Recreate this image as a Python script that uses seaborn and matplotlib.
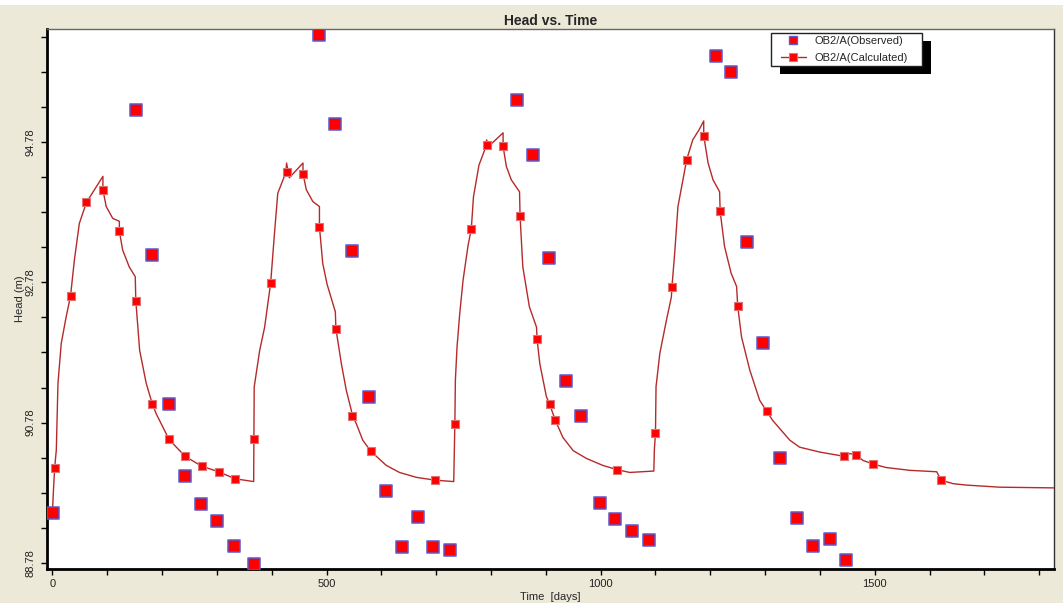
import numpy as np
import matplotlib
matplotlib.use("Agg")
import matplotlib.pyplot as plt
from matplotlib.lines import Line2D
from matplotlib.patches import Rectangle
from matplotlib.transforms import IdentityTransform
import seaborn as sns

# ── Data ───────────────────────────────────────────────────────
# observed heads (big squares)
obs_days = [1, 152, 182, 212, 242, 271, 300, 331, 367,
            487, 516, 547, 577, 608, 637, 666, 695, 726,
            847, 876, 905, 936, 965, 998, 1027, 1057, 1088,
            1211, 1237, 1267, 1297, 1327, 1358, 1388, 1418, 1448]
obs_heads = [89.49, 95.23, 93.17, 91.05, 90.02, 89.62, 89.38, 89.02, 88.77,
             96.31, 95.03, 93.23, 91.14, 89.81, 89.01, 89.44, 89.01, 88.96,
             95.38, 94.60, 93.13, 91.37, 90.88, 89.64, 89.41, 89.23, 89.11,
             96.00, 95.78, 93.35, 91.92, 90.27, 89.42, 89.02, 89.12, 88.82]

# calculated curve (model output, dense)
calc_line_days = [0, 2, 4, 7, 10, 16, 25, 33, 40, 49, 62, 92, 92, 98, 110, 122, 122,
                  128, 140, 151, 152, 159, 171, 182, 189, 212, 226, 242, 272, 303, 333, 366,
                  367, 368, 378, 387, 398, 405, 411, 426, 427, 432, 457, 457, 463, 475,
                  487, 487, 493, 501, 516, 517, 527, 536, 545, 547, 554, 566, 581, 609,
                  633, 664, 698, 732,
                  733, 734, 735, 738, 743, 749, 758, 764, 768, 778, 790, 792, 796, 822,
                  822, 828, 837, 852, 853, 858, 870, 883, 884, 889, 901, 907, 917, 931,
                  950, 974, 1004, 1030, 1053, 1097,
                  1098, 1100, 1101, 1108, 1120, 1129, 1130, 1135, 1141, 1157, 1168, 1180,
                  1188, 1188, 1196, 1205, 1217, 1218, 1226, 1238, 1248, 1250, 1257, 1272,
                  1290, 1303, 1314, 1345, 1363, 1400, 1444, 1455, 1465, 1479, 1497, 1521,
                  1564, 1613, 1621, 1643, 1667, 1728, 1826]
calc_line_heads = [89.52, 89.85, 90.14, 90.39, 91.34, 91.91, 92.29, 92.59, 93.10, 93.62, 93.92, 94.29, 94.10, 93.86, 93.69, 93.65, 93.51,
                   93.24, 93.00, 92.86, 92.52, 91.81, 91.34, 91.05, 90.91, 90.55, 90.43, 90.30, 90.16, 90.08, 89.98, 89.94,
                   89.94, 91.29, 91.81, 92.14, 92.77, 93.48, 94.05, 94.35, 94.48, 94.27, 94.48, 94.33, 94.10, 93.93,
                   93.86, 93.57, 93.05, 92.75, 92.36, 92.12, 91.62, 91.24, 90.96, 90.88, 90.77, 90.53, 90.37, 90.17,
                   90.07, 90.00, 89.96, 89.94,
                   90.34, 90.76, 91.39, 91.86, 92.34, 92.81, 93.30, 93.54, 94.00, 94.45, 94.70, 94.81, 94.72, 94.91,
                   94.72, 94.43, 94.24, 94.07, 93.72, 93.00, 92.43, 92.14, 91.97, 91.62, 91.15, 91.04, 90.82, 90.57,
                   90.38, 90.27, 90.17, 90.11, 90.07, 90.09,
                   90.40, 90.63, 91.29, 91.77, 92.24, 92.57, 92.71, 93.19, 93.86, 94.53, 94.81, 94.96,
                   95.08, 94.87, 94.48, 94.24, 94.07, 93.79, 93.29, 92.91, 92.72, 92.44, 92.00, 91.53,
                   91.10, 90.94, 90.81, 90.53, 90.43, 90.36, 90.30, 90.34, 90.32, 90.24, 90.19, 90.14,
                   90.10, 90.08, 89.96, 89.91, 89.89, 89.86, 89.85]

# calculated values at the output times (small squares)
calc_days = [4, 33, 62, 92, 122, 152, 182, 212, 242, 272, 303, 333,
             368, 398, 427, 457, 487, 517, 547, 581, 698,
             734, 764, 792, 822, 853, 884, 907, 917, 1030,
             1100, 1130, 1157, 1188, 1218, 1250, 1303, 1444, 1465, 1497, 1621]
calc_heads = [90.14, 92.59, 93.92, 94.10, 93.51, 92.52, 91.05, 90.55, 90.30, 90.16, 90.08, 89.98,
              90.55, 92.77, 94.35, 94.33, 93.57, 92.12, 90.88, 90.37, 89.96,
              90.76, 93.54, 94.73, 94.72, 93.72, 91.97, 91.04, 90.82, 90.11,
              90.63, 92.71, 94.53, 94.87, 93.79, 92.44, 90.94, 90.30, 90.32, 90.19, 89.96]

y_major = [88.78, 90.78, 92.78, 94.78]
x_major = [0, 500, 1000, 1500]

BG = "#ECE9D8"
LINE_COLOR = "#B52A2A"
RED = "#FF0000"
OBS_EDGE = "#5A5AD2"
CALC_EDGE = "#E07474"

sns.set_style("white")
plt.rcParams["font.family"] = ["Liberation Sans", "DejaVu Sans"]

fig = plt.figure(figsize=(10.63, 6.03), dpi=100, facecolor=BG)
ax = fig.add_axes([47 / 1063, 1 - 569 / 603, (1054 - 47) / 1063, (569 - 29) / 603])
ax.set_facecolor("white")

# thin white strip at top of window
fig.patches.append(Rectangle((0, 1 - 5 / 603), 1, 5 / 603, transform=fig.transFigure,
                             facecolor="white", edgecolor="none", zorder=-1))

sns.lineplot(x=calc_line_days, y=calc_line_heads, estimator=None, sort=False,
             color=LINE_COLOR, linewidth=1.0, ax=ax, zorder=2)
sns.scatterplot(x=calc_days, y=calc_heads, marker="s", s=28, color=RED,
                edgecolor=CALC_EDGE, linewidth=0.8, ax=ax, zorder=3)
sns.scatterplot(x=obs_days, y=obs_heads, marker="s", s=64, color=RED,
                edgecolor=OBS_EDGE, linewidth=1.1, ax=ax, zorder=4)

ax.set_xlim(-10, 1827)
ax.set_ylim(88.694, 96.39)

ax.set_xticks(x_major)
ax.set_xticks([d for d in range(100, 1900, 100) if d % 500], minor=True)
ax.set_yticks(y_major)
ax.set_yticks([88.78 + 0.5 * k for k in range(16) if k % 4], minor=True)
ax.set_yticklabels([f"{v:.2f}" for v in y_major], rotation=90, va="center", ha="right")
ax.tick_params(axis="both", which="both", direction="out", length=4, width=1,
               color="black", labelsize=8, labelcolor="#222222")
ax.tick_params(axis="y", which="both", left=True, pad=4)
ax.tick_params(axis="x", which="both", bottom=True, pad=3)

ax.set_xlabel("Time  [days]", fontsize=8, labelpad=2)
ax.set_ylabel("Head (m)", fontsize=8, labelpad=0.5)
ax.set_title("Head vs. Time", fontsize=10, fontweight="bold", pad=3)

for side in ["left", "bottom"]:
    ax.spines[side].set_linewidth(2)
    ax.spines[side].set_color("black")
ax.spines["top"].set_linewidth(1)
ax.spines["top"].set_color("#666666")
ax.spines["right"].set_linewidth(1)
ax.spines["right"].set_color("#333333")
ax.grid(False)

handles = [
    Line2D([], [], linestyle="none", marker="s", markersize=5.5, markerfacecolor=RED,
           markeredgecolor=OBS_EDGE, markeredgewidth=1),
    Line2D([], [], color=LINE_COLOR, linewidth=1, marker="s", markersize=5.5,
           markerfacecolor=RED, markeredgecolor=CALC_EDGE, markeredgewidth=0.8),
]
leg = ax.legend(handles, ["OB2/A(Observed)", "OB2/A(Calculated)"], loc="upper left",
                bbox_to_anchor=(0.729, 0.987), borderaxespad=0, fontsize=8,
                frameon=False, borderpad=0, handlelength=2.2, handletextpad=0.8,
                labelspacing=0.6)
leg.set_zorder(7)

# legend box drawn by hand: wider side padding plus hard black drop shadow
fig.canvas.draw()
bb = leg.get_window_extent()
pad_l, pad_r, pad_t, pad_b = 10, 14, 3, 3
x0, y0 = bb.x0 - pad_l, bb.y0 - pad_b
w, h = bb.width + pad_l + pad_r, bb.height + pad_t + pad_b
ax.add_patch(Rectangle((x0 + 9, y0 - 8), w, h, transform=IdentityTransform(),
                       facecolor="black", edgecolor="none", zorder=5, clip_on=False))
ax.add_patch(Rectangle((x0, y0), w, h, transform=IdentityTransform(),
                       facecolor="white", edgecolor="#222222", linewidth=1,
                       zorder=6, clip_on=False))

fig.savefig("out.png", dpi=100, facecolor=BG)
